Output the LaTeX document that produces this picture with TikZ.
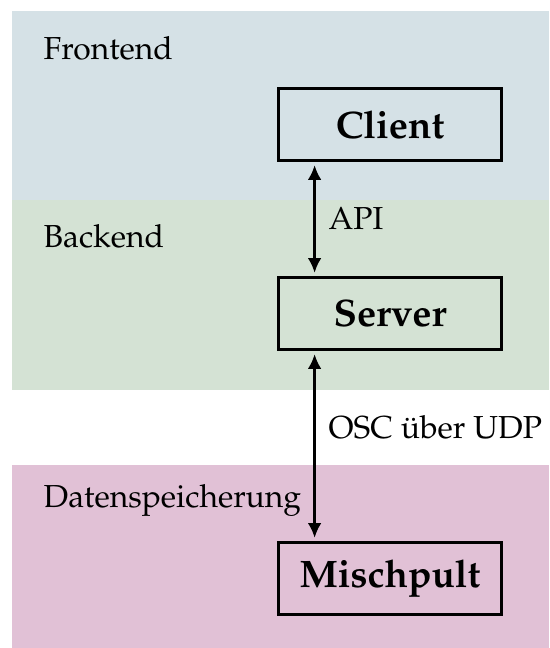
\documentclass[tikz,border=0pt]{standalone}
\usepackage[T1]{fontenc}
\usepackage{mathpazo}
\usetikzlibrary{arrows.meta,positioning}

% layer colours
\definecolor{frontendcol}{RGB}{213,225,230}
\definecolor{backendcol}{RGB}{212,226,212}
\definecolor{storagecol}{RGB}{225,193,214}

\tikzset{
  component/.style={draw, line width=0.8pt, minimum width=2.23cm, minimum height=0.72cm,
    font=\fontsize{10.9}{13}\selectfont\bfseries},
  layerlabel/.style={anchor=base west, inner sep=0pt, font=\fontsize{9.05}{11}\selectfont},
  link/.style={{Latex[length=4.2pt,width=3.9pt]}-{Latex[length=4.2pt,width=3.9pt]},
    line width=0.8pt, shorten <=0.9pt, shorten >=0.9pt},
}

\begin{document}
\begin{tikzpicture}
        \useasboundingbox (0,0) rectangle (5.49,6.48);
        
        % Layers
        \fill[frontendcol] (0.12,4.48) rectangle (5.49,6.37);
        \fill[backendcol] (0.12,2.58) rectangle (5.49,4.48);
        \fill[storagecol] (0.12,0) rectangle (5.49,1.83);
        
        \node[layerlabel] (frontend) at (0.43,5.88) {Frontend};
        \node[layerlabel] (backend) at (0.43,4.00) {Backend};
        \node[layerlabel] (storage) at (0.43,1.40) {Datenspeicherung};
        
        % Components
        \node[component] (client) at (3.90,5.235) {Client};
        \node[component] (server) at (3.90,3.345) {Server};
        \node[component] (mixer) at (3.90,0.695) {Mischpult};
        
        % Connections
        \draw[link] ([xshift=0.375cm]client.south west) -- ([xshift=0.375cm]server.north west);
        \draw[link] ([xshift=0.375cm]server.south west) -- ([xshift=0.375cm]mixer.north west);
        
        \node[layerlabel] (api) at (3.28,4.18) {API};
        \node[layerlabel] (osc) at (3.28,2.09) {OSC über UDP};
    \end{tikzpicture}
\end{document}
